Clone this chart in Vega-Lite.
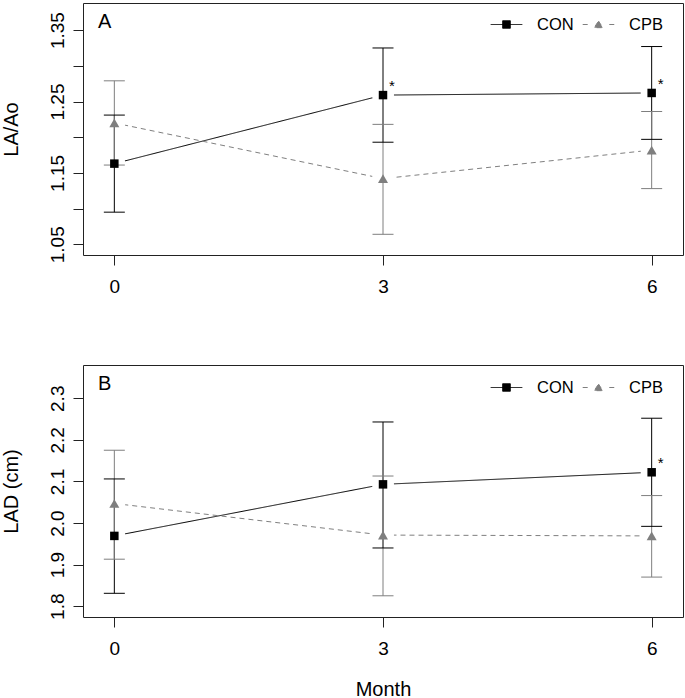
{
  "$schema": "https://vega.github.io/schema/vega-lite/v6.json",
  "padding": {"left": 0, "top": 2, "right": 3, "bottom": 0},
  "background": "white",
  "data": {"values": [
    {"panel": "A", "group": "CON", "month": 0, "mean": 1.163, "lo": 1.095, "hi": 1.231, "sig": ""},
    {"panel": "A", "group": "CON", "month": 3, "mean": 1.259, "lo": 1.193, "hi": 1.325, "sig": "*"},
    {"panel": "A", "group": "CON", "month": 6, "mean": 1.262, "lo": 1.197, "hi": 1.327, "sig": "*"},
    {"panel": "A", "group": "CPB", "month": 0, "mean": 1.220, "lo": 1.161, "hi": 1.279, "sig": ""},
    {"panel": "A", "group": "CPB", "month": 3, "mean": 1.142, "lo": 1.064, "hi": 1.218, "sig": ""},
    {"panel": "A", "group": "CPB", "month": 6, "mean": 1.182, "lo": 1.128, "hi": 1.236, "sig": ""},
    {"panel": "B", "group": "CON", "month": 0, "mean": 1.969, "lo": 1.831, "hi": 2.106, "sig": ""},
    {"panel": "B", "group": "CON", "month": 3, "mean": 2.093, "lo": 1.940, "hi": 2.243, "sig": ""},
    {"panel": "B", "group": "CON", "month": 6, "mean": 2.122, "lo": 1.992, "hi": 2.252, "sig": "*"},
    {"panel": "B", "group": "CPB", "month": 0, "mean": 2.047, "lo": 1.913, "hi": 2.175, "sig": ""},
    {"panel": "B", "group": "CPB", "month": 3, "mean": 1.971, "lo": 1.825, "hi": 2.113, "sig": ""},
    {"panel": "B", "group": "CPB", "month": 6, "mean": 1.969, "lo": 1.870, "hi": 2.066, "sig": ""}
  ]},
  "spacing": 110,
  "bounds": "flush",
  "resolve": {
    "scale": {"x": "independent", "y": "independent", "color": "independent", "strokeDash": "independent"},
    "legend": {"color": "independent"}
  },
  "vconcat": [
    {
      "width": 600,
      "height": 252,
      "title": {"text": "A", "anchor": "start", "frame": "group", "orient": "top", "dx": 15, "offset": -45, "baseline": "alphabetic", "fontSize": 20, "fontWeight": "normal", "font": "Liberation Sans", "color": "#000"},
      "transform": [{"filter": "datum.panel === 'A'"}],
      "encoding": {
        "x": {"field": "month", "type": "quantitative",
              "scale": {"domain": [-0.35, 6.35], "nice": false, "zero": false},
              "axis": {"values": [0, 3, 6], "format": "d", "title": null}}
      },
      "layer": [
        {
          "mark": {"type": "line", "strokeWidth": 1},
          "encoding": {
            "y": {"field": "mean", "type": "quantitative",
                  "scale": {"domain": [1.035, 1.388], "nice": false, "zero": false},
                  "axis": {"values": [1.05, 1.1, 1.15, 1.2, 1.25, 1.3, 1.35],
                           "labelExpr": "indexof(['1.05','1.15','1.25','1.35'], format(datum.value, '.2f')) >= 0 ? format(datum.value, '.2f') : ''",
                           "title": "LA/Ao", "titleX": -66, "titleY": 126}},
            "color": {"field": "group", "type": "nominal",
                      "scale": {"domain": ["CON", "CPB"], "range": ["#000000", "#7f7f7f"]},
                      "legend": {
                        "orient": "none", "legendX": 407, "legendY": 5, "direction": "horizontal", "title": null,
                        "symbolSize": 1000, "symbolStrokeWidth": 1, "labelOffset": 14, "columnPadding": 6, "padding": 0,
                        "labelFontSize": 16.5, "labelFont": "Liberation Sans", "labelColor": "#000",
                        "symbolType": {"expr": "datum.value === 'CON' ? 'M-1,0L1,0M-0.24,-0.24L0.24,-0.24L0.24,0.24L-0.24,0.24Z' : 'M-1,0L-0.68,0M0.68,0L1,0M0,-0.22L0.27,0.2L-0.27,0.2Z'"},
                        "symbolFillColor": {"expr": "datum.value === 'CON' ? '#000000' : '#7f7f7f'"},
                        "symbolStrokeColor": {"expr": "datum.value === 'CON' ? '#000000' : '#7f7f7f'"},
                        "symbolDash": [1, 0],
                        "symbolOpacity": 1
                      }},
            "strokeDash": {"field": "group", "type": "nominal",
                           "scale": {"domain": ["CON", "CPB"], "range": [[1, 0], [5, 4]]}, "legend": null}
          }
        },
        {
          "mark": {"type": "point", "shape": "circle", "filled": true, "fill": "white", "stroke": "white", "opacity": 1, "size": 400},
          "encoding": {"y": {"field": "mean", "type": "quantitative"}}
        },
        {
          "mark": {"type": "rule", "strokeWidth": 1},
          "encoding": {
            "y": {"field": "lo", "type": "quantitative"},
            "y2": {"field": "hi"},
            "color": {"field": "group", "type": "nominal", "legend": null}
          }
        },
        {
          "mark": {"type": "point", "shape": "M-1,0L1,0", "filled": false, "size": 441, "strokeWidth": 1, "opacity": 1},
          "encoding": {
            "y": {"field": "lo", "type": "quantitative"},
            "color": {"field": "group", "type": "nominal", "legend": null}
          }
        },
        {
          "mark": {"type": "point", "shape": "M-1,0L1,0", "filled": false, "size": 441, "strokeWidth": 1, "opacity": 1},
          "encoding": {
            "y": {"field": "hi", "type": "quantitative"},
            "color": {"field": "group", "type": "nominal", "legend": null}
          }
        },
        {
          "transform": [{"filter": "datum.group === 'CON'"}],
          "mark": {"type": "point", "shape": "square", "filled": true, "fill": "#000000", "opacity": 1, "size": 72},
          "encoding": {"y": {"field": "mean", "type": "quantitative"}}
        },
        {
          "transform": [{"filter": "datum.group === 'CPB'"}],
          "mark": {"type": "point", "shape": "triangle-up", "filled": true, "fill": "#7f7f7f", "opacity": 1, "size": 100},
          "encoding": {"y": {"field": "mean", "type": "quantitative"}}
        },
        {
          "mark": {"type": "text", "dx": 9, "dy": -9, "fontSize": 15, "align": "center", "baseline": "middle", "fill": "#000", "font": "Liberation Sans"},
          "encoding": {
            "y": {"field": "mean", "type": "quantitative"},
            "text": {"field": "sig"}
          }
        }
      ]
    },
    {
      "width": 600,
      "height": 252,
      "title": {"text": "B", "anchor": "start", "frame": "group", "orient": "top", "dx": 15, "offset": -45, "baseline": "alphabetic", "fontSize": 20, "fontWeight": "normal", "font": "Liberation Sans", "color": "#000"},
      "transform": [{"filter": "datum.panel === 'B'"}],
      "encoding": {
        "x": {"field": "month", "type": "quantitative",
              "scale": {"domain": [-0.35, 6.35], "nice": false, "zero": false},
              "axis": {"values": [0, 3, 6], "format": "d", "title": "Month", "titleX": 300, "titleY": 62, "titleBaseline": "top", "titleAlign": "center"}}
      },
      "layer": [
        {
          "mark": {"type": "line", "strokeWidth": 1},
          "encoding": {
            "y": {"field": "mean", "type": "quantitative",
                  "scale": {"domain": [1.774, 2.38], "nice": false, "zero": false},
                  "axis": {"values": [1.8, 1.9, 2.0, 2.1, 2.2, 2.3], "format": ".1f",
                           "title": "LAD (cm)", "titleX": -66, "titleY": 126}},
            "color": {"field": "group", "type": "nominal",
                      "scale": {"domain": ["CON", "CPB"], "range": ["#000000", "#7f7f7f"]},
                      "legend": {
                        "orient": "none", "legendX": 407, "legendY": 6, "direction": "horizontal", "title": null,
                        "symbolSize": 1000, "symbolStrokeWidth": 1, "labelOffset": 14, "columnPadding": 6, "padding": 0,
                        "labelFontSize": 16.5, "labelFont": "Liberation Sans", "labelColor": "#000",
                        "symbolType": {"expr": "datum.value === 'CON' ? 'M-1,0L1,0M-0.24,-0.24L0.24,-0.24L0.24,0.24L-0.24,0.24Z' : 'M-1,0L-0.68,0M0.68,0L1,0M0,-0.22L0.27,0.2L-0.27,0.2Z'"},
                        "symbolFillColor": {"expr": "datum.value === 'CON' ? '#000000' : '#7f7f7f'"},
                        "symbolStrokeColor": {"expr": "datum.value === 'CON' ? '#000000' : '#7f7f7f'"},
                        "symbolDash": [1, 0],
                        "symbolOpacity": 1
                      }},
            "strokeDash": {"field": "group", "type": "nominal",
                           "scale": {"domain": ["CON", "CPB"], "range": [[1, 0], [5, 4]]}, "legend": null}
          }
        },
        {
          "mark": {"type": "point", "shape": "circle", "filled": true, "fill": "white", "stroke": "white", "opacity": 1, "size": 400},
          "encoding": {"y": {"field": "mean", "type": "quantitative"}}
        },
        {
          "mark": {"type": "rule", "strokeWidth": 1},
          "encoding": {
            "y": {"field": "lo", "type": "quantitative"},
            "y2": {"field": "hi"},
            "color": {"field": "group", "type": "nominal", "legend": null}
          }
        },
        {
          "mark": {"type": "point", "shape": "M-1,0L1,0", "filled": false, "size": 441, "strokeWidth": 1, "opacity": 1},
          "encoding": {
            "y": {"field": "lo", "type": "quantitative"},
            "color": {"field": "group", "type": "nominal", "legend": null}
          }
        },
        {
          "mark": {"type": "point", "shape": "M-1,0L1,0", "filled": false, "size": 441, "strokeWidth": 1, "opacity": 1},
          "encoding": {
            "y": {"field": "hi", "type": "quantitative"},
            "color": {"field": "group", "type": "nominal", "legend": null}
          }
        },
        {
          "transform": [{"filter": "datum.group === 'CON'"}],
          "mark": {"type": "point", "shape": "square", "filled": true, "fill": "#000000", "opacity": 1, "size": 72},
          "encoding": {"y": {"field": "mean", "type": "quantitative"}}
        },
        {
          "transform": [{"filter": "datum.group === 'CPB'"}],
          "mark": {"type": "point", "shape": "triangle-up", "filled": true, "fill": "#7f7f7f", "opacity": 1, "size": 100},
          "encoding": {"y": {"field": "mean", "type": "quantitative"}}
        },
        {
          "mark": {"type": "text", "dx": 9, "dy": -9, "fontSize": 15, "align": "center", "baseline": "middle", "fill": "#000", "font": "Liberation Sans"},
          "encoding": {
            "y": {"field": "mean", "type": "quantitative"},
            "text": {"field": "sig"}
          }
        }
      ]
    }
  ],
  "config": {
    "font": "Liberation Sans",
    "view": {"stroke": "#222222", "strokeWidth": 1},
    "axis": {
      "grid": false, "domain": false, "tickColor": "#222222", "tickSize": 10, "tickWidth": 1,
      "labelFont": "Liberation Sans", "labelFontSize": 19, "labelColor": "#000000",
      "labelFlush": false, "labelOverlap": false, "labelBound": false,
      "titleFont": "Liberation Sans", "titleFontSize": 20, "titleFontWeight": "normal", "titleColor": "#000000"
    },
    "axisY": {"labelAngle": -90, "labelAlign": "center", "labelBaseline": "alphabetic", "labelPadding": 10,
              "titleAngle": -90, "titleAlign": "center", "titleBaseline": "alphabetic"},
    "axisX": {"labelPadding": 12, "labelBaseline": "top", "labelAlign": "center", "labelAngle": 0}
  }
}
